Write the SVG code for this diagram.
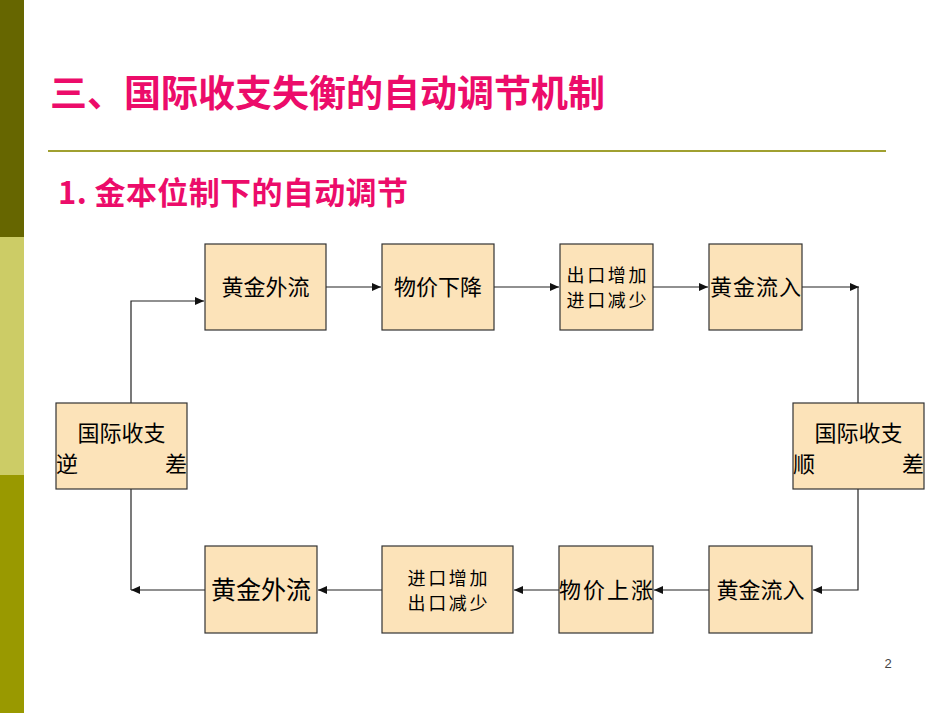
<svg xmlns="http://www.w3.org/2000/svg" width="950" height="713" viewBox="0 0 950 713">
<style>
.box{fill:#FCE3B9;stroke:#333;stroke-width:1.2}
.t{font-family:"Noto Sans CJK SC","Liberation Sans",sans-serif;fill:#000;text-anchor:middle}
.ln{fill:none;stroke:#222;stroke-width:1.2}
.hd{font-family:"Noto Sans CJK SC","Liberation Sans",sans-serif;fill:#EC0C6A;font-weight:bold}
</style>
<defs>
<marker id="ah" markerWidth="9" markerHeight="8" refX="9" refY="4" orient="auto" markerUnits="userSpaceOnUse">
<path d="M0,0 L9,4 L0,8 Z" fill="#111"/>
</marker>
</defs>
<rect width="950" height="713" fill="#fff"/>
<rect x="0" y="0" width="24" height="237" fill="#666600"/>
<rect x="0" y="237" width="24" height="238" fill="#CCCC66"/>
<rect x="0" y="475" width="24" height="238" fill="#999900"/>
<text class="hd" x="50" y="107" font-size="37" textLength="555">三、国际收支失衡的自动调节机制</text>
<line x1="48" y1="151" x2="886" y2="151" stroke="#A0A030" stroke-width="2"/>
<text class="hd" x="58" y="204" font-size="31" textLength="350">1. 金本位制下的自动调节</text>
<text x="888" y="668" font-family="Liberation Sans,sans-serif" font-size="13" fill="#444" text-anchor="middle">2</text>

<g id="connectors">
<path class="ln" d="M131,403 V301 H204" marker-end="url(#ah)"/>
<path class="ln" d="M326,287 H381" marker-end="url(#ah)"/>
<path class="ln" d="M494,287 H559" marker-end="url(#ah)"/>
<path class="ln" d="M653,287 H708" marker-end="url(#ah)"/>
<path class="ln" d="M802,287 H859" marker-end="url(#ah)"/>
<path class="ln" d="M858,287 V403"/>
<path class="ln" d="M858,489 V590 H813" marker-end="url(#ah)"/>
<path class="ln" d="M709,590 H654" marker-end="url(#ah)"/>
<path class="ln" d="M559,590 H514" marker-end="url(#ah)"/>
<path class="ln" d="M382,590 H318" marker-end="url(#ah)"/>
<path class="ln" d="M205,590 H131"  marker-end="url(#ah)"/>
<path class="ln" d="M131,590 V489"/>
</g>

<g id="n1"><rect class="box" x="205" y="244" width="121" height="86"/><text class="t" x="265.5" y="295" font-size="22">黄金外流</text></g>
<g id="n2"><rect class="box" x="382" y="244" width="112" height="86"/><text class="t" x="438" y="295" font-size="22">物价下降</text></g>
<g id="n3"><rect class="box" x="560" y="244" width="93" height="86"/><text class="t" x="606.5" y="282" font-size="18" textLength="80">出口增加</text><text class="t" x="606.5" y="307" font-size="18" textLength="80">进口减少</text></g>
<g id="n4"><rect class="box" x="709" y="244" width="93" height="86"/><text class="t" x="755.5" y="295" font-size="22" textLength="91">黄金流入</text></g>
<g id="n5"><rect class="box" x="793" y="403" width="131" height="86"/><text class="t" x="858.5" y="441" font-size="22">国际收支</text><text class="t" x="793" y="472" font-size="22" style="text-anchor:start">顺</text><text class="t" x="924" y="472" font-size="22" style="text-anchor:end">差</text></g>
<g id="n6"><rect class="box" x="709" y="546" width="103" height="87"/><text class="t" x="760.5" y="598" font-size="22">黄金流入</text></g>
<g id="n7"><rect class="box" x="559" y="546" width="94" height="87"/><text class="t" x="606" y="598" font-size="22" textLength="94">物价上涨</text></g>
<g id="n8"><rect class="box" x="382" y="546" width="131" height="87"/><text class="t" x="447.5" y="585" font-size="18" textLength="80">进口增加</text><text class="t" x="447.5" y="610" font-size="18" textLength="80">出口减少</text></g>
<g id="n9"><rect class="box" x="205" y="546" width="112" height="87"/><text class="t" x="261" y="599" font-size="25">黄金外流</text></g>
<g id="n10"><rect class="box" x="56" y="403" width="131" height="86"/><text class="t" x="121.5" y="441" font-size="22">国际收支</text><text class="t" x="56" y="472" font-size="22" style="text-anchor:start">逆</text><text class="t" x="187" y="472" font-size="22" style="text-anchor:end">差</text></g>
</svg>
